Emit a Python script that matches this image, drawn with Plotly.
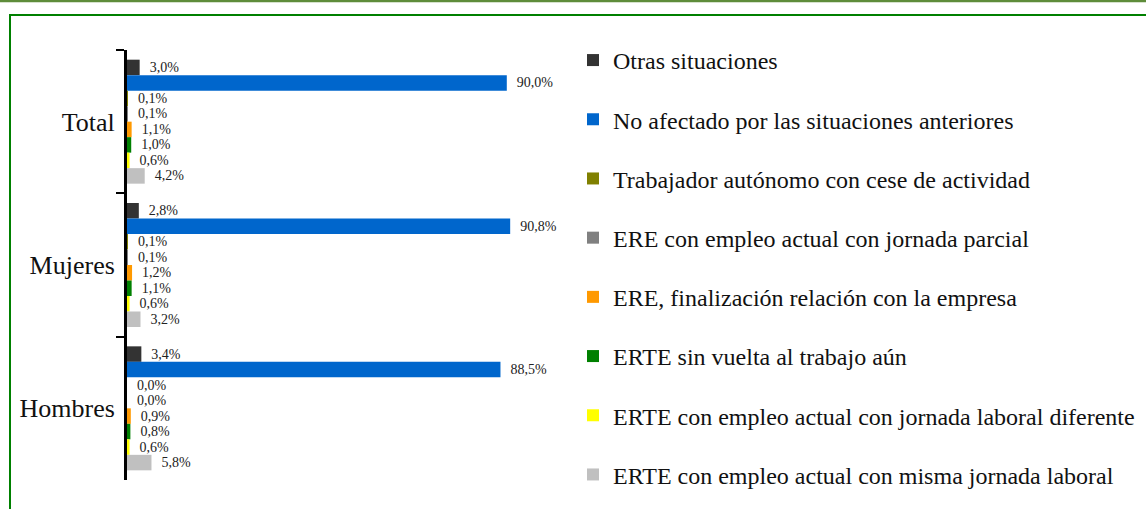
import plotly.graph_objects as go

categories = ["Total", "Mujeres", "Hombres"]
series_names = [
    "Otras situaciones",
    "No afectado por las situaciones anteriores",
    "Trabajador autónomo con cese de actividad",
    "ERE con empleo actual con jornada parcial",
    "ERE, finalización relación con la empresa",
    "ERTE sin vuelta al trabajo aún",
    "ERTE con empleo actual con jornada laboral diferente",
    "ERTE con empleo actual con misma jornada laboral",
]
otras = [3.0, 2.8, 3.4]
no_afectado = [90.0, 90.8, 88.5]
autonomo = [0.1, 0.1, 0.0]
ere_parcial = [0.1, 0.1, 0.0]
ere_final = [1.1, 1.2, 0.9]
erte_sin_vuelta = [1.0, 1.1, 0.8]
erte_diferente = [0.6, 0.6, 0.6]
erte_misma = [4.2, 3.2, 5.8]
series_values = [otras, no_afectado, autonomo, ere_parcial, ere_final,
                 erte_sin_vuelta, erte_diferente, erte_misma]
colors = ["#333333", "#0066CC", "#808000", "#808080", "#FF9900",
          "#008000", "#FFFF00", "#C0C0C0"]

SERIF = "Liberation Serif"
W, H = 1146, 509
L, R, T, B = 127, 597, 50, 29
pw, ph = W - L - R, H - T - B

def px_x(p):
    return (p - L) / pw

def px_y(p):
    return (H - B - p) / ph

fig = go.Figure()
for name, vals, col in zip(series_names, series_values, colors):
    fig.add_trace(go.Bar(
        y=categories, x=vals, name=name, orientation="h",
        marker=dict(color=col, line=dict(width=0)),
        text=vals, texttemplate="\u00a0\u00a0%{x:.1f}%", textposition="outside",
        textfont=dict(family=SERIF, size=14, color="#222222"),
        cliponaxis=False, legendgroup=name,
    ))

fig.update_layout(
    width=W, height=H,
    margin=dict(l=L, r=R, t=T, b=B, autoexpand=False),
    paper_bgcolor="white", plot_bgcolor="white",
    barmode="group", bargap=0.135, bargroupgap=0.0,
    separators=",.",
    font=dict(family=SERIF, color="#111111"),
    showlegend=True,
    legend=dict(x=px_x(573), y=1.028, xanchor="left", yanchor="top",
                font=dict(family=SERIF, size=24, color="#111111"),
                tracegroupgap=25, bgcolor="rgba(0,0,0,0)", maxheight=1),
    xaxis=dict(range=[0, 100], showticklabels=False, showgrid=False,
               zeroline=False, showline=False, ticks=""),
    yaxis=dict(autorange="reversed", showline=True, linecolor="black",
               linewidth=3, ticks="outside", tickson="boundaries",
               ticklen=8, tickwidth=2, tickcolor="black",
               ticklabelstandoff=4,
               tickfont=dict(family=SERIF, size=26, color="#111111"),
               showgrid=False, zeroline=False),
    shapes=[
        dict(type="line", xref="paper", yref="paper",
             x0=px_x(0), x1=px_x(W), y0=px_y(1), y1=px_y(1),
             line=dict(color="#5E8C3A", width=2.5), layer="below"),
        dict(type="rect", xref="paper", yref="paper",
             x0=px_x(10), x1=px_x(W + 20), y0=px_y(15), y1=px_y(H + 20),
             line=dict(color="#008000", width=2), layer="below"),
    ],
)

fig.write_html("out.html", config={"displayModeBar": False},
               post_script="document.body.style.margin='0px';document.body.style.overflow='hidden';")
